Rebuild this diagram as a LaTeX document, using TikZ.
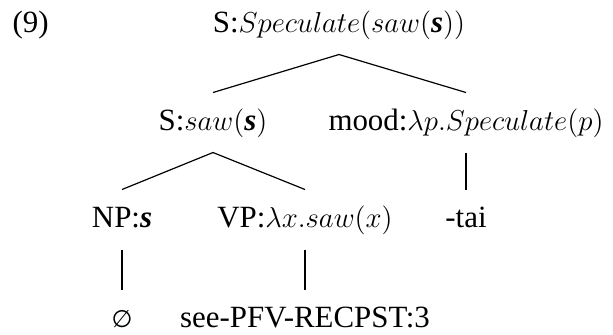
\documentclass[tikz,border=0pt]{standalone}
\usepackage{amsmath}
\usepackage{fontspec}
\setmainfont{Liberation Serif}
\newfontfamily\tms{Liberation Serif}
\newfontfamily\symf{DejaVu Sans}
\usepackage{tikz}
\newcommand{\sbf}{\textbf{\textit{s}}}

\begin{document}
\begin{tikzpicture}[x=0.5pt,y=-0.5pt,line width=0.6pt,
    lbl/.style={anchor=base,inner sep=0pt,text height=10pt,text depth=2.5pt,
      outer ysep=8.75pt,font=\tms\fontsize{15.45pt}{18pt}\selectfont}]
  \useasboundingbox (0,0) rectangle (613,334);
  % example number
  \node[lbl,anchor=base west] (num) at (12,32) {(9)};
  % tree
  \node[lbl] (root) at (339,32) {S:$Speculate(saw(\sbf))$};
  \node[lbl] (sent) at (213,130) {S:$saw(\sbf)$};
  \node[lbl] (mood) at (466,130) {mood:$\lambda p.Speculate(p)$};
  \node[lbl] (np) at (122,227) {NP:\sbf};
  \node[lbl] (vp) at (305,227) {VP:$\lambda x.saw(x)$};
  \node[lbl] (tai) at (466,227) {-tai};
  \node[lbl] (null) at (122,327) {{\symf\fontsize{12pt}{14pt}\selectfont ∅}};
  \node[lbl] (verb) at (305,327) {see-PFV-RECPST:3};
  % branches
  \draw (root.south) -- (sent.north);
  \draw (root.south) -- (mood.north);
  \draw (sent.south) -- (np.north);
  \draw (sent.south) -- (vp.north);
  \draw (mood.south) -- (tai.north);
  \draw (np.south) -- (null.north);
  \draw (vp.south) -- (verb.north);
\end{tikzpicture}
\end{document}
